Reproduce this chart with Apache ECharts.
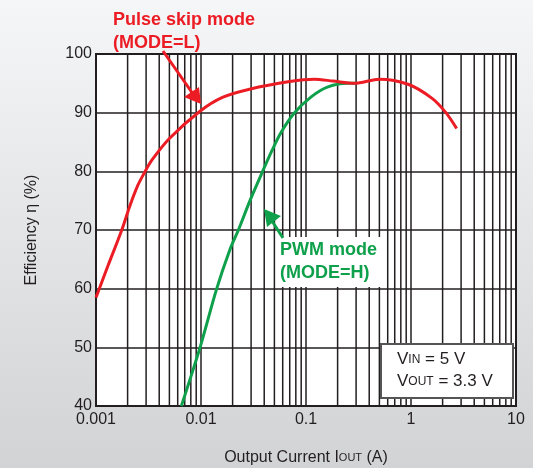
<!DOCTYPE html>
<html>
<head>
<meta charset="utf-8">
<script src="https://cdn.jsdelivr.net/npm/echarts@6/dist/echarts.min.js"></script>
<style>
  html, body { margin: 0; padding: 0; }
  #chart { width: 533px; height: 468px; }
</style>
</head>
<body>
<div id="chart"></div>
<script>
// efficiency vs output current
const pulseSkipCurrent = [0.001, 0.0013, 0.00176, 0.0021, 0.0025, 0.0029, 0.0034, 0.005, 0.0097, 0.016, 0.029, 0.07, 0.12, 0.18, 0.29, 0.5, 0.95, 1.6, 2.15, 2.72]
const pulseSkipEff = [58.5, 63.9, 70.0, 74.1, 77.6, 79.8, 81.9, 85.6, 90.2, 92.6, 94.0, 95.3, 95.7, 95.4, 95.0, 95.7, 94.8, 92.4, 90.0, 87.3]

const pwmCurrent = [0.0065, 0.0098, 0.014, 0.0188, 0.0227, 0.0294, 0.038, 0.0476, 0.0573, 0.077, 0.112, 0.162, 0.253, 0.3]
const pwmEff = [40, 50, 59.8, 66.6, 70.0, 75.1, 79.7, 83.6, 86.5, 89.9, 92.7, 94.4, 95.0, 95.0]

// minor vertical grid lines 2..9 of each decade
const minorTicks = []
for (const decade of [0.001, 0.01, 0.1, 1]) {
  for (let k = 2; k <= 9; k++) minorTicks.push(+(decade * k).toPrecision(3))
}

const RED = '#ec1c24'
const GREEN = '#0ea04b'
const INK = '#231f20'
const FONT = '"Liberation Sans", Arial, sans-serif'

const chart = echarts.init(document.getElementById('chart'))

chart.setOption({
  backgroundColor: {
    type: 'linear', x: 0, y: 0, x2: 0, y2: 1,
    colorStops: [{ offset: 0, color: '#f5f6f7' }, { offset: 1, color: '#d2d3d5' }],
  },
  textStyle: { fontFamily: FONT },
  grid: {
    left: 96, right: 17, top: 54, bottom: 62,
    outerBoundsMode: 'none', containLabel: false,
    show: true, backgroundColor: '#fff', borderColor: INK, borderWidth: 2,
  },
  xAxis: {
    type: 'log', logBase: 10, min: 0.001, max: 10,
    name: 'Output Current I{s|OUT} (A)',
    nameLocation: 'middle', nameGap: 44,
    nameTextStyle: { fontSize: 16, color: INK, fontFamily: FONT, rich: { s: { fontSize: 11, color: INK, fontFamily: FONT } } },
    axisLine: { show: true, lineStyle: { color: INK, width: 2 } },
    axisTick: { show: false },
    axisLabel: { fontSize: 16, color: INK, margin: 6, formatter: v => String(v) },
    splitLine: { show: true, lineStyle: { color: INK, width: 1.5 } },
  },
  yAxis: {
    type: 'value', min: 40, max: 100, interval: 10,
    name: 'Efficiency η (%)',
    nameLocation: 'middle', nameGap: 56, nameRotate: 90,
    nameTextStyle: { fontSize: 16, color: INK },
    axisLine: { show: true, lineStyle: { color: INK, width: 2 } },
    axisTick: { show: false },
    axisLabel: { fontSize: 16, color: INK, margin: 4 },
    splitLine: { show: true, lineStyle: { color: INK, width: 1.5 } },
  },
  series: [
    {
      // minor grid: one vertical line per value, drawn through the axis scale
      type: 'custom', z: 1, silent: true,
      data: minorTicks.map(v => [v]),
      renderItem: (params, api) => {
        const top = api.coord([api.value(0), 100])
        const bottom = api.coord([api.value(0), 40])
        return {
          type: 'line',
          shape: { x1: top[0], y1: top[1], x2: bottom[0], y2: bottom[1] },
          style: { stroke: INK, lineWidth: 1.5 },
        }
      },
      encode: { x: 0 },
    },
    {
      name: 'PWM', type: 'line', z: 3, smooth: 0.3, showSymbol: false,
      data: pwmCurrent.map((x, i) => [x, pwmEff[i]]),
      lineStyle: { color: GREEN, width: 3 },
    },
    {
      name: 'Pulse skip', type: 'line', z: 4, smooth: 0.3, showSymbol: false,
      data: pulseSkipCurrent.map((x, i) => [x, pulseSkipEff[i]]),
      lineStyle: { color: RED, width: 3 },
    },
  ],
  graphic: [
    {
      type: 'text', left: 113, top: 9, z: 20,
      style: { text: 'Pulse skip mode\n(MODE=L)', fill: RED, font: 'bold 18px ' + FONT, lineHeight: 23 },
    },
    { type: 'line', z: 20, shape: { x1: 163, y1: 51, x2: 193, y2: 94 }, style: { stroke: RED, lineWidth: 3 } },
    { type: 'polygon', z: 20, shape: { points: [[201, 104], [184, 97], [199, 87]] }, style: { fill: RED } },
    {
      type: 'text', left: 276, top: 237, z: 20,
      style: {
        text: 'PWM mode\n(MODE=H)', fill: GREEN, font: 'bold 18px ' + FONT, lineHeight: 23,
        backgroundColor: '#fff', padding: [2, 4, 2, 4],
      },
    },
    { type: 'line', z: 21, shape: { x1: 283, y1: 238, x2: 272, y2: 221 }, style: { stroke: GREEN, lineWidth: 3 } },
    { type: 'polygon', z: 21, shape: { points: [[264, 209], [281, 216], [267, 227]] }, style: { fill: GREEN } },
    {
      type: 'rect', z: 20, shape: { x: 381, y: 344, width: 132, height: 54 },
      style: { fill: '#fff', stroke: '#555', lineWidth: 2 },
    },
    {
      type: 'text', left: 397, top: 351, z: 21,
      style: {
        text: '{a|V}{s|IN}{a| = 5 V}\n{a|V}{s|OUT}{a| = 3.3 V}',
        rich: {
          a: { fontSize: 17, fontFamily: FONT, fill: INK, lineHeight: 22 },
          s: { fontSize: 12, fontFamily: FONT, fill: INK, lineHeight: 22 },
        },
      },
    },
  ],
})
</script>
</body>
</html>
